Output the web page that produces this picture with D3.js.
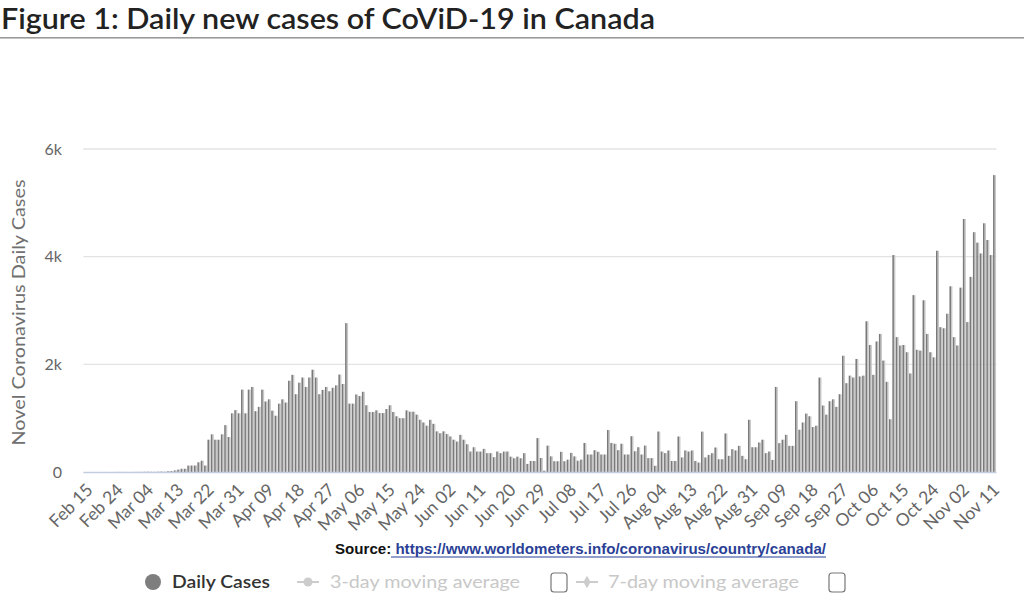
<!DOCTYPE html>
<html>
<head>
<meta charset="utf-8">
<script src="https://cdn.jsdelivr.net/npm/d3@7"></script>
<style>
  html, body { margin: 0; padding: 0; background: #ffffff; }
  svg { display: block; }
</style>
</head>
<body>
<svg id="chart" width="1024" height="606"></svg>
<script>
// ---- Data ----
const startDate = "2020-02-15";
const dailyCases = [
  0,0,0,0,0,0,1,0,0,1,2,1,2,1,1,2,3,3,5,6,
  4,3,6,8,5,15,17,
  30,45,60,60,120,120,120,180,210,120,
  600,700,600,600,700,870,650,1090,1150,1090,1530,1090,1530,1580,1130,1210,1530,1310,1350,1140,1045,1270,
  1350,1290,1695,1805,1445,1660,1755,1580,1755,1900,1755,1445,1525,1580,1500,1565,1610,1810,1635,2765,
  1270,1270,1440,1410,1490,1240,1115,1115,1145,1095,1095,1170,1240,1115,1035,1000,1000,1145,1120,1120,
  1065,970,920,860,970,895,755,720,755,705,660,600,565,690,600,515,380,460,380,380,
  430,350,350,275,380,350,380,380,285,255,285,255,350,150,205,205,630,
  260,25,490,290,200,200,375,200,230,355,290,210,230,540,325,325,405,375,325,325,
  780,540,525,405,525,325,325,665,385,460,325,490,258,258,115,752,
  380,350,400,205,205,660,270,400,380,400,205,175,750,270,318,350,455,237,237,716,
  300,424,400,486,300,237,970,460,460,548,600,350,380,225,1580,536,600,690,486,486,
  1315,785,920,1085,1035,835,860,1755,1235,1065,1315,1350,1210,
  1445,2160,1650,1790,1755,2100,1775,1790,2800,2360,1805,2425,2565,2070,1675,980,4030,
  2505,2350,2360,2225,1830,3285,2270,2255,3190,2565,2225,2130,4110,2690,2670,2940,3450,
  2505,2350,3425,4700,2785,3625,4455,4260,4060,4620,4310,4030,5515
];
const tickLabels = ["Feb 15","Feb 24","Mar 04","Mar 13","Mar 22","Mar 31","Apr 09","Apr 18","Apr 27",
  "May 06","May 15","May 24","Jun 02","Jun 11","Jun 20","Jun 29","Jul 08","Jul 17","Jul 26",
  "Aug 04","Aug 13","Aug 22","Aug 31","Sep 09","Sep 18","Sep 27","Oct 06","Oct 15","Oct 24",
  "Nov 02","Nov 11"];
const yTicks = [0, 2000, 4000, 6000];
const yTickLabels = ["0", "2k", "4k", "6k"];
const legendItems = ["Daily Cases", "3-day moving average", "7-day moving average"];
const titleText = "Figure 1: Daily new cases of CoViD-19 in Canada";
const sourceLabel = "Source: ";
const sourceUrl = "https://www.worldometers.info/coronavirus/country/canada/";
const yAxisTitle = "Novel Coronavirus Daily Cases";

// categories (one per day)
const fmt = d3.timeFormat("%b %d");
const d0 = d3.timeParse("%Y-%m-%d")(startDate);
const categories = dailyCases.map((v, i) => fmt(d3.timeDay.offset(d0, i)));
const data = categories.map((c, i) => ({ cat: c, v: dailyCases[i] }));

// ---- Layout ----
const svg = d3.select("#chart");
const plot = { left: 83.3, right: 996.5, top: 149, bottom: 472 };

const x = d3.scaleBand().domain(categories).range([plot.left, plot.right]).padding(0);
const y = d3.scaleLinear().domain([0, 6000]).range([plot.bottom, plot.top]);

// Title
svg.append("text")
  .attr("x", 1).attr("y", 29)
  .attr("font-family", "Lato, 'Open Sans', sans-serif")
  .attr("font-weight", 600)
  .attr("font-size", 28)
  .attr("fill", "#222")
  .attr("textLength", 654)
  .attr("lengthAdjust", "spacingAndGlyphs")
  .text(titleText);
svg.append("rect").attr("x", 0).attr("y", 37).attr("width", 1024).attr("height", 1.6).attr("fill", "#9a9a9a");

// Gridlines
svg.append("g").selectAll("line").data(yTicks.filter(t => t > 0)).join("line")
  .attr("x1", plot.left).attr("x2", plot.right)
  .attr("y1", d => y(d)).attr("y2", d => y(d))
  .attr("stroke", "#e3e3e3").attr("stroke-width", 1.3);

// Y tick labels
svg.append("g").selectAll("text").data(yTicks).join("text")
  .attr("x", 62).attr("y", d => y(d))
  .attr("dy", "0.35em")
  .attr("text-anchor", "end")
  .attr("font-family", "Lato, 'Open Sans', sans-serif")
  .attr("font-size", 16)
  .attr("fill", "#666")
  .text((d, i) => yTickLabels[i]);

// Y axis title
svg.append("text")
  .attr("transform", `translate(19, ${(plot.top + plot.bottom) / 2 + 2}) rotate(-90)`)
  .attr("dy", "0.35em")
  .attr("text-anchor", "middle")
  .attr("font-family", "Lato, 'Open Sans', sans-serif")
  .attr("font-size", 18)
  .attr("fill", "#707070")
  .attr("textLength", 266)
  .attr("lengthAdjust", "spacingAndGlyphs")
  .text(yAxisTitle);

// Bars: dark edge + light body to mimic the reference's rendering
const bw = x.bandwidth();
const bars = svg.append("g");
bars.selectAll("rect.light").data(data).join("rect")
  .attr("class", "light")
  .attr("x", d => x(d.cat) + bw * 0.42)
  .attr("width", bw * 0.45)
  .attr("y", d => y(d.v))
  .attr("height", d => y(0) - y(d.v))
  .attr("fill", "#c8c8c8");
bars.selectAll("rect.dark").data(data).join("rect")
  .attr("class", "dark")
  .attr("x", d => x(d.cat) - bw * 0.02)
  .attr("width", bw * 0.46)
  .attr("y", d => y(d.v))
  .attr("height", d => y(0) - y(d.v))
  .attr("fill", "#7a7a7a");

// X axis baseline
svg.append("line")
  .attr("x1", plot.left).attr("x2", plot.right)
  .attr("y1", plot.bottom + 0.5).attr("y2", plot.bottom + 0.5)
  .attr("stroke", "#c4cde0").attr("stroke-width", 1.5);

// X axis labels
const xAxis = d3.axisBottom(x).tickValues(tickLabels).tickSize(0).tickPadding(0);
const gx = svg.append("g").attr("transform", `translate(0, ${plot.bottom})`).call(xAxis);
gx.select(".domain").remove();
gx.selectAll(".tick text")
  .attr("font-family", "Lato, 'Open Sans', sans-serif")
  .attr("font-size", 17.5)
  .attr("fill", "#666")
  .attr("text-anchor", "end")
  .attr("dy", 0)
  .attr("y", 0)
  .attr("transform", "translate(9, 19) rotate(-45)");

// Source line
const src = svg.append("text")
  .attr("x", 335).attr("y", 554)
  .attr("font-family", "'Liberation Sans Narrow', 'Liberation Sans', Arial, sans-serif")
  .attr("font-weight", 700)
  .attr("font-size", 15)
  .attr("textLength", 491)
  .attr("lengthAdjust", "spacingAndGlyphs");
src.append("tspan").attr("fill", "#111").text(sourceLabel);
src.append("tspan").attr("fill", "#2b3f96").text(sourceUrl);
svg.append("line").attr("x1", 391).attr("x2", 826).attr("y1", 557).attr("y2", 557)
  .attr("stroke", "#2b3f96").attr("stroke-width", 1.2);

// Legend
const lg = svg.append("g").attr("font-family", "Lato, 'Open Sans', sans-serif").attr("font-size", 18);
const legendY = 582;
// Daily Cases
lg.append("circle").attr("cx", 153).attr("cy", legendY).attr("r", 8).attr("fill", "#7e7e7e");
lg.append("text").attr("x", 172).attr("y", legendY).attr("dy", "0.35em").attr("fill", "#333")
  .attr("font-weight", 600).attr("textLength", 98).attr("lengthAdjust", "spacingAndGlyphs").text(legendItems[0]);
// 3-day
lg.append("line").attr("x1", 297).attr("x2", 319).attr("y1", legendY).attr("y2", legendY)
  .attr("stroke", "#cccccc").attr("stroke-width", 2);
lg.append("circle").attr("cx", 308).attr("cy", legendY).attr("r", 4.5).attr("fill", "#cccccc");
lg.append("text").attr("x", 330).attr("y", legendY).attr("dy", "0.35em").attr("fill", "#c8c8c8")
  .attr("textLength", 190).attr("lengthAdjust", "spacingAndGlyphs").text(legendItems[1]);
lg.append("rect").attr("x", 551).attr("y", 573).attr("width", 16).attr("height", 19).attr("rx", 3)
  .attr("fill", "#fff").attr("stroke", "#777").attr("stroke-width", 1.2);
// 7-day
lg.append("line").attr("x1", 576).attr("x2", 598).attr("y1", legendY).attr("y2", legendY)
  .attr("stroke", "#cccccc").attr("stroke-width", 2);
lg.append("path").attr("d", d3.symbol(d3.symbolDiamond, 45)()).attr("transform", `translate(587, ${legendY})`)
  .attr("fill", "#cccccc");
lg.append("text").attr("x", 608).attr("y", legendY).attr("dy", "0.35em").attr("fill", "#c8c8c8")
  .attr("textLength", 191).attr("lengthAdjust", "spacingAndGlyphs").text(legendItems[2]);
lg.append("rect").attr("x", 829).attr("y", 573).attr("width", 16).attr("height", 19).attr("rx", 3)
  .attr("fill", "#fff").attr("stroke", "#777").attr("stroke-width", 1.2);
</script>
</body>
</html>
